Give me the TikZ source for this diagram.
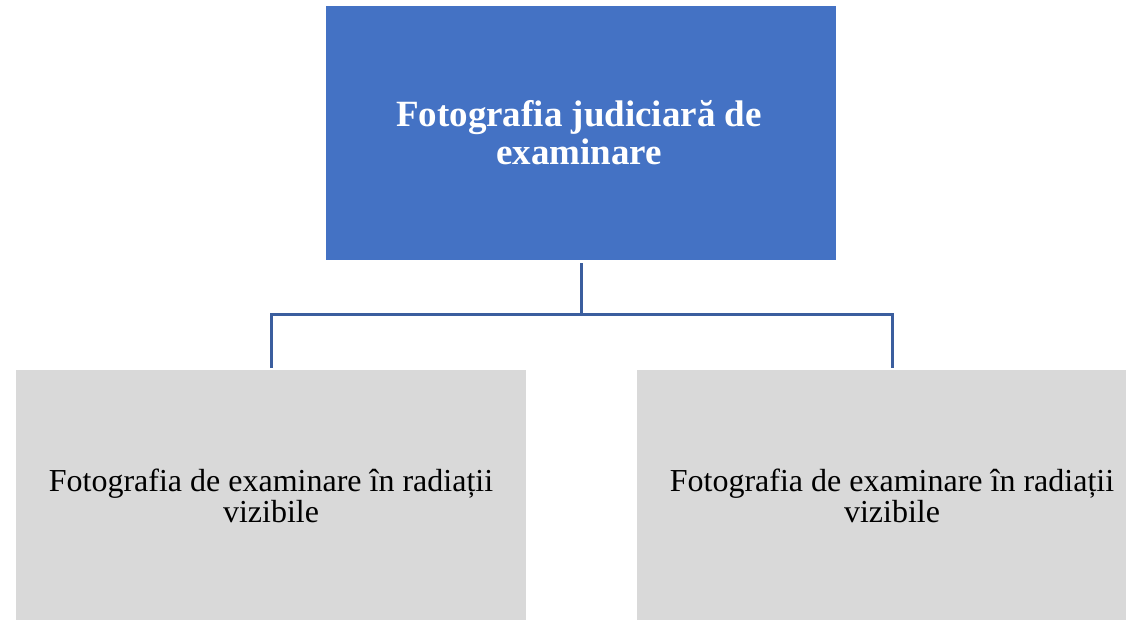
\documentclass[tikz,border=0pt]{standalone}
\usepackage{fontspec}
\setmainfont{Liberation Serif}
\definecolor{topblue}{HTML}{4472C4}
\definecolor{boxgray}{HTML}{D9D9D9}
\definecolor{linkblue}{HTML}{3B5E9E}
\begin{document}
\begin{tikzpicture}[x=1pt,y=1pt,
  topbox/.style={fill=topblue, draw=none, minimum width=510pt, minimum height=254pt, inner sep=0pt},
  subbox/.style={fill=boxgray, draw=none, minimum width=510pt, minimum height=250pt, inner sep=0pt},
  toplabel/.style={text=white, align=center, font=\fontsize{37}{38}\selectfont\bfseries},
  sublabel/.style={text=black, align=center, font=\fontsize{32}{31}\selectfont},
  link/.style={draw=linkblue, line width=3pt}]
\useasboundingbox (0,0) rectangle (1126,620);
\clip (0,0) rectangle (1126,620);
\node[topbox] (top) at (581,487) {};
\node[toplabel] (toptext) at (579,487) {Fotografia judiciară de\\examinare};
\node[subbox] (left) at (271,125) {};
\node[subbox] (right) at (892,125) {};
\node[sublabel] (lefttext) at (271,124) {Fotografia de examinare în radiații\\vizibile};
\node[sublabel] (righttext) at (892,124) {Fotografia de examinare în radiații\\vizibile};
\coordinate (mid) at (581,305);
\draw[link] ([yshift=-3pt]top.south) -- (mid);
\draw[link] (mid) -| ([yshift=2pt]left.north);
\draw[link] (mid) -| ([yshift=2pt]right.north);
\end{tikzpicture}
\end{document}
